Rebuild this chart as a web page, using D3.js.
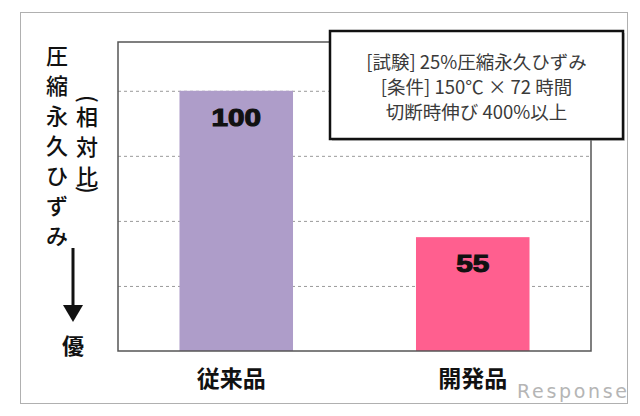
<!DOCTYPE html>
<html><head><meta charset="utf-8">
<script src="https://cdn.jsdelivr.net/npm/d3@7"></script>
<style>
html,body{margin:0;padding:0;background:#fff;}
text{font-family:"Noto Sans CJK JP","Noto Sans",sans-serif;}
</style></head>
<body>
<svg id="c" width="640" height="416"></svg>
<script>
const categories = ["従来品", "開発品"];
const values = [100, 55];
const valueLabels = ["100", "55"];
const barColors = ["#ae9dc9", "#ff5f8f"];
const gridTicks = [40, 60, 80, 100];
const yDomain = [20, 115];
const titleMain = ["圧", "縮", "永", "久", "ひ", "ず", "み"];
const titleSub = ["(", "相", "対", "比", ")"];
const noteLines = ["[試験] 25%圧縮永久ひずみ", "[条件] 150℃ × 72 時間", "切断時伸び 400%以上"];
const betterLabel = "優";

const svg = d3.select("#c");
const L = 118, T = 42, R = 591, B = 351;

// outer frame
svg.append("rect").attr("x", 20.5).attr("y", 12.5).attr("width", 607).attr("height", 391)
  .attr("fill", "#fff").attr("stroke", "#b0b0b0").attr("stroke-width", 1);

const x = d3.scaleBand().domain(categories).range([L, R]).paddingInner(0.52).paddingOuter(0.26);
const y = d3.scaleLinear().domain(yDomain).range([B, T]);

// gridlines
const g = svg.append("g").attr("transform", `translate(${L},0)`)
  .call(d3.axisLeft(y).tickValues(gridTicks).tickSize(-(R - L)).tickFormat(""));
g.select(".domain").remove();
g.selectAll(".tick line").attr("stroke", "#9a9a9a").attr("stroke-dasharray", "3,3").attr("stroke-width", 1);

// bars
svg.selectAll("rect.bar").data(values).join("rect").attr("class", "bar")
  .attr("x", (d, i) => x(categories[i])).attr("width", x.bandwidth())
  .attr("y", d => y(d)).attr("height", d => B - y(d))
  .attr("fill", (d, i) => barColors[i]);

// plot border
svg.append("rect").attr("x", L).attr("y", T).attr("width", R - L).attr("height", B - T)
  .attr("fill", "none").attr("stroke", "#555").attr("stroke-width", 1.5);

// value labels
svg.selectAll("text.val").data(values).join("text").attr("class", "val")
  .attr("x", (d, i) => x(categories[i]) + x.bandwidth() / 2)
  .attr("y", d => y(d) + 35)
  .attr("text-anchor", "middle").attr("font-size", 24).attr("font-weight", "bold")
  .style("font-family", "'Liberation Sans', Arial, sans-serif").attr("fill", "#111")
  .attr("stroke", "#111").attr("stroke-width", 1.1)
  .attr("textLength", (d, i) => valueLabels[i].length * 16.5).attr("lengthAdjust", "spacingAndGlyphs")
  .text((d, i) => valueLabels[i]);

// category labels
svg.selectAll("text.cat").data(categories).join("text").attr("class", "cat")
  .attr("x", d => x(d) + x.bandwidth() / 2 - (d === categories[0] ? 5 : 0)).attr("y", 387)
  .attr("text-anchor", "middle").attr("font-size", 23).attr("font-weight", 600).attr("fill", "#111")
  .text(d => d);

// y title (vertical)
svg.selectAll("text.tm").data(titleMain).join("text").attr("class", "tm")
  .attr("x", 57).attr("y", (d, i) => 56 + i * 30 + 8)
  .attr("text-anchor", "middle").attr("font-size", 22).attr("font-weight", 500).attr("fill", "#111").text(d => d);
svg.selectAll("text.ts").data(titleSub).join("text").attr("class", "ts")
  .each(function (d, i) {
    const cy = i === 0 ? 99 : (i === titleSub.length - 1 ? 190 : 117 + (i - 1) * 30);
    const t = d3.select(this).attr("text-anchor", "middle").attr("font-size", 22).attr("font-weight", 500).attr("fill", "#111").text(d);
    if (d === "(" || d === ")") {
      t.attr("x", 0).attr("y", 7).attr("transform", `translate(87,${cy}) rotate(90)`);
    } else {
      t.attr("x", 87).attr("y", cy + 8);
    }
  });

// arrow
svg.append("line").attr("x1", 73).attr("x2", 73).attr("y1", 248).attr("y2", 308)
  .attr("stroke", "#111").attr("stroke-width", 3);
svg.append("path").attr("d", "M63,305 L83,305 L73,322 Z").attr("fill", "#111");
svg.append("text").attr("x", 73).attr("y", 354).attr("text-anchor", "middle")
  .attr("font-size", 22).attr("font-weight", 600).attr("fill", "#111").text(betterLabel);

// note box
const bx = 330, by = 31, bw = 293, bh = 108;
svg.append("rect").attr("x", bx + 2).attr("y", by + 2).attr("width", bw).attr("height", bh)
  .attr("fill", "#999").attr("opacity", 0.5);
svg.append("rect").attr("x", bx).attr("y", by).attr("width", bw).attr("height", bh)
  .attr("fill", "#fff").attr("stroke", "#111").attr("stroke-width", 2.5);
svg.selectAll("text.note").data(noteLines).join("text").attr("class", "note")
  .attr("x", bx + bw / 2).attr("y", (d, i) => 68.5 + i * 25)
  .attr("text-anchor", "middle").attr("font-size", 18.5).attr("fill", "#3a3a3a").text(d => d);

// watermark
svg.append("text").attr("x", 517).attr("y", 398).attr("font-size", 19)
  .style("font-family", "'DejaVu Sans', sans-serif").attr("fill", "#b5b5b5")
  .attr("textLength", 110).text("Response");
</script>
</body></html>
